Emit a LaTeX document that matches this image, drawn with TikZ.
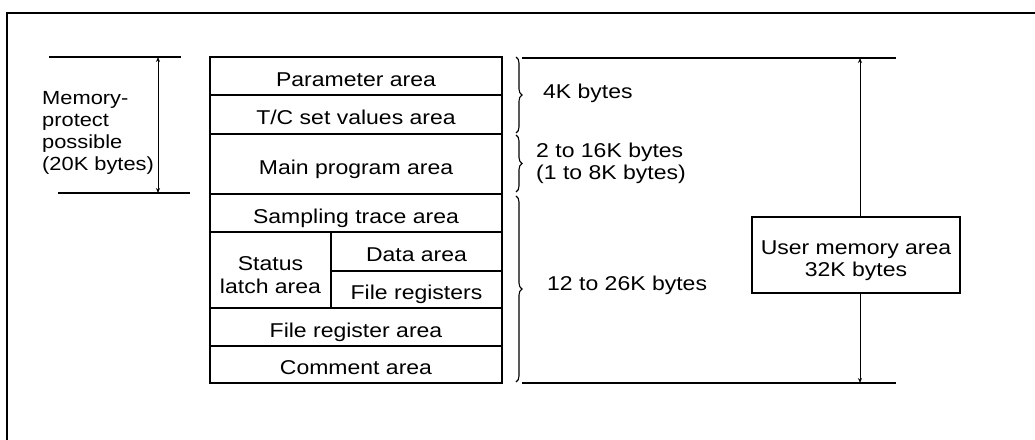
\documentclass[tikz,border=0pt]{standalone}
\usepackage{fontspec}
\setmainfont[FakeStretch=1.15]{Liberation Sans}
\usetikzlibrary{arrows.meta,decorations.pathreplacing}

\tikzset{
  cell/.style n args={2}{draw, line width=1.2pt, inner sep=0pt, align=center,
    minimum width=#1, minimum height=#2, text height=20pt, text depth=0pt},
  twoline/.style={text height=#1, text depth=0pt},
  frameline/.style={line width=2.6pt},
  limitline/.style={line width=1.4pt},
  dimarrow/.style={line width=0.9pt, {Stealth[length=5pt,width=4pt]}-{Stealth[length=5pt,width=4pt]}},
  halfarrow/.style={line width=0.9pt, -{Stealth[length=5pt,width=4pt]}},
  sizebrace/.style={decorate, line width=1.1pt, decoration={brace, amplitude=6pt}},
  label/.style={inner sep=0pt, anchor=west, align=left},
}

\begin{document}
\begin{tikzpicture}[x=1pt, y=-1pt, font=\fontsize{20}{22.5}\selectfont]
\useasboundingbox (0,0) rectangle (1035,439);

% outer frame (top and left edges)
\draw[frameline] (7,445) -- (7,13) -- (1040,13);

% memory map
\node[cell={292pt}{38pt}] (param) at (356,76)    {Parameter area};
\node[cell={292pt}{39pt}] (tc)    at (356,114.5) {T/C set values area};
\node[cell={292pt}{60pt}] (main)  at (356,164)   {Main program area};
\node[cell={292pt}{38pt}] (samp)  at (356,213)   {Sampling trace area};
\node[cell={121pt}{76pt}, twoline=46pt] (stat) at (270.5,270) {Status\\latch area};
\node[cell={171pt}{39pt}] (data)  at (416.5,251.5) {Data area};
\node[cell={171pt}{37pt}] (freg)  at (416.5,289.5) {File registers};
\node[cell={292pt}{38pt}] (fra)   at (356,327)   {File register area};
\node[cell={292pt}{37pt}] (comm)  at (356,364.5) {Comment area};

% memory-protect range on the left
\coordinate (lt1) at (49,57);  \coordinate (lt2) at (181,57);
\coordinate (lb1) at (58,193); \coordinate (lb2) at (190,193);
\coordinate (lat) at (158,57); \coordinate (lab) at (158,193);
\draw[limitline] (lt1) -- (lt2);
\draw[limitline] (lb1) -- (lb2);
\draw[dimarrow] (lat) -- (lab);
\node[label, font=\fontsize{19}{22}\selectfont] (prot) at (42,132.5)
  {Memory-\\protect\\possible\\(20K bytes)};

% size braces
\draw[sizebrace] (516,57) -- (516,133);
\draw[sizebrace] (516,135) -- (516,192);
\draw[sizebrace] (516,196) -- (516,382);
\node[label] (s4)  at (543,93)  {4K bytes};
\node[label] (s16) at (536,163.5) {2 to 16K bytes\\(1 to 8K bytes)};
\node[label] (s26) at (547,285) {12 to 26K bytes};

% user memory range on the right
\coordinate (rt1) at (522,58);  \coordinate (rt2) at (896,58);
\coordinate (rb1) at (522,383); \coordinate (rb2) at (896,383);
\coordinate (rat) at (860,58);  \coordinate (rab) at (860,383);
\draw[limitline] (rt1) -- (rt2);
\draw[limitline] (rb1) -- (rb2);
\node[cell={208pt}{76pt}, twoline=43.5pt] (user) at (856,255) {User memory area\\32K bytes};
\draw[halfarrow] (user.north -| rat) -- (rat);
\draw[halfarrow] (user.south -| rab) -- (rab);
\end{tikzpicture}
\end{document}
